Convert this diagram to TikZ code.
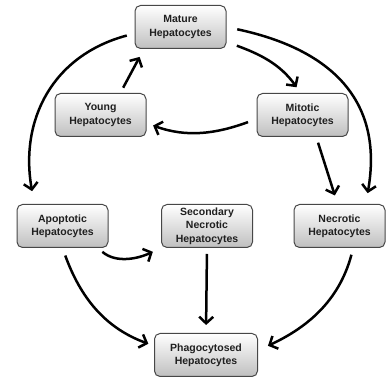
\documentclass[tikz,border=0pt]{standalone}
\usepackage{fontspec}
\setmainfont{Liberation Sans}
\usetikzlibrary{arrows.meta}
\newcommand{\cellwidth}{91pt}

\begin{document}
\begin{tikzpicture}[x=1pt,y=1pt,
	cell/.style={draw=black!72, line width=1pt, rounded corners=5.5pt,
		top color=white, bottom color=black!25,
		minimum width=\cellwidth, minimum height=43pt, inner sep=0pt,
		align=center, text=black!88,
		font=\fontsize{10.5}{13.3}\selectfont\bfseries},
	flow/.style={line width=2.5pt, -{Straight Barb[length=6.5pt,width=14pt]}}]
	\useasboundingbox (0,0) rectangle (391,379);

	\node[cell] (mature) at (180.5,352) {Mature\\Hepatocytes};
	\node[cell] (young) at (100.5,264) {Young\\Hepatocytes};
	\node[cell] (mitotic) at (302.5,264) {Mitotic\\Hepatocytes};
	\node[cell] (apoptotic) at (62.5,153) {Apoptotic\\Hepatocytes};
	\node[cell] (secondary) at (207,153) {Secondary\\Necrotic\\Hepatocytes};
	\node[cell] (necrotic) at (339.5,153) {Necrotic\\Hepatocytes};
	\node[cell, minimum width=103pt] (phago) at (206,24) {Phagocytosed\\Hepatocytes};

	% top part
	\draw[flow, shorten <=8pt, shorten >=13pt] (mature.188) to[out=195, in=100, looseness=1.1] (apoptotic.142);
	\draw[flow, shorten <=11pt, shorten >=11pt] (mature.east) to[out=-12, in=80, looseness=1.2] (necrotic.40);
	\draw[flow, shorten <=11pt, shorten >=7pt] (mature.342) to[out=-20, in=125] (mitotic.95);
	\draw[flow, shorten <=6pt, shorten >=9pt] (young.48) -- (mature.211);
	\draw[flow, shorten <=9pt, shorten >=7pt] (mitotic.185) to[out=200, in=-20] (young.350);
	\draw[flow, shorten <=6pt, shorten >=9pt] (mitotic.302) -- (necrotic.95);

	% bottom part
	\draw[flow, shorten <=6pt, shorten >=9pt] (apoptotic.328) to[out=-40, in=205] (secondary.south west);
	\draw[flow, shorten <=8pt, shorten >=6pt] (apoptotic.south) to[out=-70, in=160] (phago.170);
	\draw[flow, shorten <=6pt, shorten >=8pt] (secondary.south) -- (phago.north);
	\draw[flow, shorten <=7pt, shorten >=11pt] (necrotic.302) to[out=-105, in=25] (phago.5);
\end{tikzpicture}
\end{document}
